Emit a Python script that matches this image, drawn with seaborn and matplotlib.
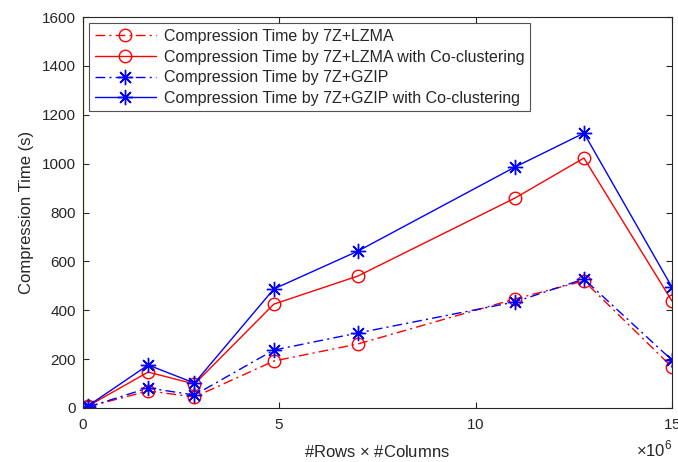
import seaborn as sns
import numpy as np
import pandas as pd
import matplotlib.pyplot as plt
from matplotlib.ticker import ScalarFormatter

# rows x columns (in units of 1)
sizes = [0.13e6, 1.66e6, 2.84e6, 4.86e6, 7.0e6, 11.0e6, 12.76e6, 15.0e6]

lzma = [5, 70, 45, 192, 262, 446, 520, 168]
lzma_co = [8, 147, 98, 425, 540, 859, 1023, 438]
gzip = [4, 82, 53, 237, 307, 434, 528, 196]
gzip_co = [9, 176, 102, 487, 642, 986, 1125, 495]

labels = ['Compression Time by 7Z+LZMA',
          'Compression Time by 7Z+LZMA with Co-clustering',
          'Compression Time by 7Z+GZIP',
          'Compression Time by 7Z+GZIP with Co-clustering']

sns.set_style('ticks')
plt.rcParams['font.family'] = ['Liberation Sans', 'DejaVu Sans']
plt.rcParams['mathtext.fontset'] = 'custom'
plt.rcParams['mathtext.rm'] = 'Liberation Sans'

fig = plt.figure(figsize=(6.78, 4.62), dpi=100)
ax = fig.add_axes([0.1224, 0.1169, 0.8686, 0.8461])

ax.axvline(0, color='#e8e800', lw=1.0, zorder=1)

asterisk = (8, 2, 0)
dashdot = (7, 3, 1.5, 3)
series = [
    (lzma, labels[0], 'red', dashdot, 'o', 9),
    (lzma_co, labels[1], 'red', None, 'o', 9),
    (gzip, labels[2], 'blue', dashdot, asterisk, 11),
    (gzip_co, labels[3], 'blue', None, asterisk, 11),
]
for vals, lab, col, dsh, mk, ms in series:
    df = pd.DataFrame({'x': sizes, 'y': vals})
    kw = {'dashes': dsh} if dsh else {'linestyle': '-'}
    sns.lineplot(data=df, x='x', y='y', ax=ax, color=col,
                 marker=mk, markersize=ms, markerfacecolor='none',
                 markeredgecolor=col, markeredgewidth=1.0, lw=1.0, label=lab, **kw)

ax.set_xlim(0, 15e6)
ax.set_ylim(0, 1600)
ax.set_xticks([0, 5e6, 10e6, 15e6])
ax.set_yticks(np.arange(0, 1601, 200))
fmt = ScalarFormatter(useMathText=True)
fmt.set_powerlimits((6, 6))
ax.xaxis.set_major_formatter(fmt)
ax.xaxis.get_offset_text().set_visible(False)
ax.text(1.0, -0.078, r'$\times10^{6}$', transform=ax.transAxes, ha='right',
        va='top', fontsize=12, color='#262626')

ax.tick_params(direction='in', length=4, width=0.8, colors='#262626',
               labelsize=11, top=True, right=True)
ax.tick_params(axis='x', pad=7)
ax.tick_params(axis='y', pad=5)
for s in ax.spines.values():
    s.set_visible(True)
    s.set_color('#262626')
    s.set_linewidth(0.8)

ax.set_xlabel(r'#Rows $\times$ #Columns', fontsize=12, color='#262626', labelpad=9)
ax.set_ylabel('Compression Time (s)', fontsize=12, color='#262626', labelpad=6)

leg = ax.legend(loc='upper left', fontsize=11.5, frameon=True, fancybox=False,
                edgecolor='#262626', borderaxespad=0.4, handlelength=3.8,
                labelspacing=0.35, borderpad=0.35, handletextpad=0.5)
leg.get_frame().set_linewidth(0.8)

fig.savefig('out.png', dpi=100)
